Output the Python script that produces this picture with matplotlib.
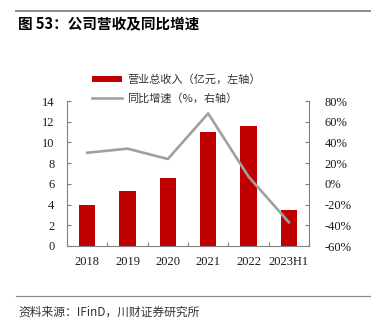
import matplotlib
matplotlib.use('Agg')
import matplotlib.pyplot as plt

plt.rcParams['font.family'] = ['Liberation Serif', 'Noto Sans CJK SC']

# 数据
years = ['2018', '2019', '2020', '2021', '2022', '2023H1']
revenue = [3.95, 5.3, 6.55, 11.0, 11.6, 3.45]      # 营业总收入（亿元）
growth = [30.0, 34.0, 24.0, 68.0, 7.0, -37.0]       # 同比增速（%）

red = '#C00000'
grey_line = '#A0A0A0'
spine_c = '#808080'
txt_c = '#1a1a1a'
cjk = ['Noto Sans CJK SC', 'DejaVu Sans']

fig = plt.figure(figsize=(3.77, 3.24), dpi=100)
ax = fig.add_axes([67/377, 1-246/324, 242/377, 145/324])
ax2 = ax.twinx()

x = list(range(len(years)))
b = ax.bar(x, revenue, width=0.4, color=red, label='营业总收入（亿元，左轴）', zorder=2)
l, = ax2.plot(x, growth, color=grey_line, lw=1.9, label='同比增速（%，右轴）')

ax.set_xlim(-0.5, 5.5)
ax.set_ylim(0, 14)
ax.set_yticks(range(0, 15, 2))
ax2.set_ylim(-60, 80)
ax2.set_yticks(range(-60, 81, 20))
ax2.set_yticklabels([f'{v}%' for v in range(-60, 81, 20)])

# x轴：刻度在类别之间，标签在类别中心
ax.set_xticks([i + 0.5 for i in range(-1, 6)])
ax.set_xticklabels([])
ax.set_xticks(x, minor=True)
ax.set_xticklabels(years, minor=True)
ax.tick_params(axis='x', which='minor', length=0, pad=7, labelsize=9, labelcolor=txt_c)
ax.tick_params(axis='x', which='major', direction='in', length=3, color=spine_c)
ax.tick_params(axis='y', direction='in', length=3, color=spine_c, pad=9, labelsize=9, labelcolor=txt_c)
ax2.tick_params(axis='y', direction='in', length=3, color=spine_c, pad=11, labelsize=9, labelcolor=txt_c)

for a in (ax, ax2):
    a.spines['top'].set_visible(False)
    for s in ('left', 'right', 'bottom'):
        a.spines[s].set_color(spine_c)
        a.spines[s].set_linewidth(0.8)
ax.spines['right'].set_visible(False)
ax2.spines['left'].set_visible(False)
ax2.spines['bottom'].set_visible(False)

leg = fig.legend([b, l], [b.get_label(), l.get_label()], loc='upper left',
                 bbox_to_anchor=(92/377, 1-74/324), frameon=False, borderpad=0,
                 borderaxespad=0, handlelength=2.7, handleheight=0.4,
                 handletextpad=0.45, labelspacing=0.75,
                 prop={'family': cjk, 'size': 8})
for t in leg.get_texts():
    t.set_color('#333333')

# 标题与来源
fig.add_artist(plt.Line2D([16/377, 370/377], [1-10.5/324]*2, color='#8c8c8c', lw=1.4))
fig.text(18/377, 1-23/324, '图 53：公司营收及同比增速', family=cjk, fontsize=10.5,
         fontweight='bold', va='center', ha='left', color='black')
fig.add_artist(plt.Line2D([16/377, 370/377], [1-296/324]*2, color='#8c8c8c', lw=0.9))
fig.text(18/377, 1-312/324, '资料来源：IFinD，川财证券研究所', family=cjk, fontsize=8.5,
         style='italic', va='center', ha='left', color='#333333')

fig.savefig('out.png', dpi=100)
